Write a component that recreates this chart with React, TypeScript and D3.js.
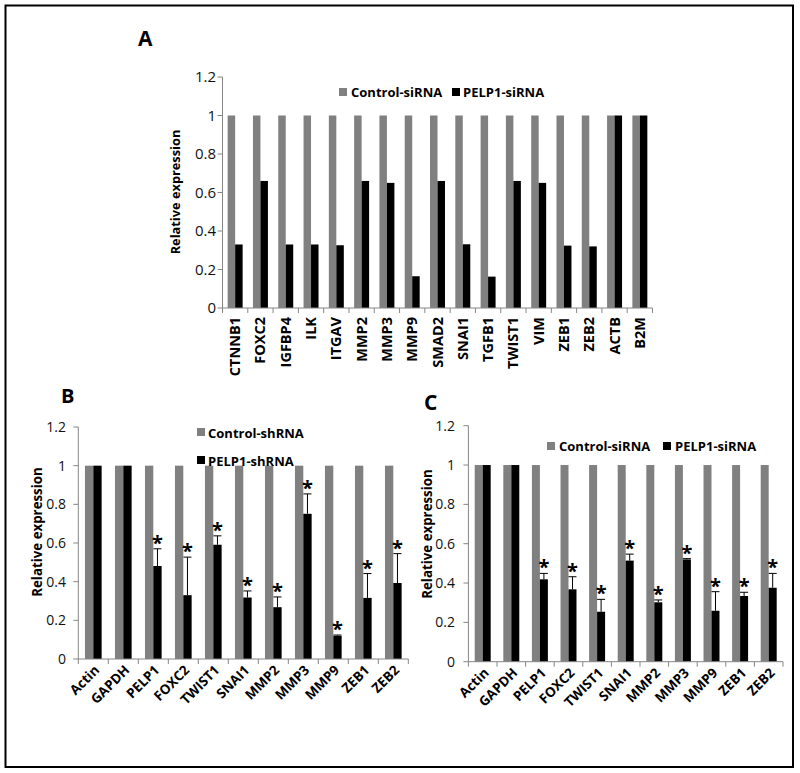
import React from "react";
import * as d3 from "d3";

// ---------- DATA ----------
const genesA = ["CTNNB1", "FOXC2", "IGFBP4", "ILK", "ITGAV", "MMP2", "MMP3", "MMP9", "SMAD2", "SNAI1", "TGFB1", "TWIST1", "VIM", "ZEB1", "ZEB2", "ACTB", "B2M"];
const controlA = [1, 1, 1, 1, 1, 1, 1, 1, 1, 1, 1, 1, 1, 1, 1, 1, 1];
const pelp1A = [0.33, 0.66, 0.33, 0.33, 0.326, 0.66, 0.65, 0.165, 0.66, 0.331, 0.163, 0.66, 0.65, 0.324, 0.32, 1, 1];

const genesB = ["Actin", "GAPDH", "PELP1", "FOXC2", "TWIST1", "SNAI1", "MMP2", "MMP3", "MMP9", "ZEB1", "ZEB2"];
const controlB = [1, 1, 1, 1, 1, 1, 1, 1, 1, 1, 1];
const pelp1B = [1, 1, 0.481, 0.33, 0.591, 0.318, 0.268, 0.751, 0.12, 0.316, 0.393];
const errTopB = [1, 1, 0.57, 0.527, 0.637, 0.352, 0.321, 0.854, 0.124, 0.442, 0.545];
const starB = [false, false, true, true, true, true, true, true, true, true, true];

const genesC = ["Actin", "GAPDH", "PELP1", "FOXC2", "TWIST1", "SNAI1", "MMP2", "MMP3", "MMP9", "ZEB1", "ZEB2"];
const controlC = [1, 1, 1, 1, 1, 1, 1, 1, 1, 1, 1];
const pelp1C = [1, 1, 0.419, 0.368, 0.254, 0.514, 0.302, 0.52, 0.259, 0.334, 0.376];
const errTopC = [1, 1, 0.449, 0.432, 0.317, 0.547, 0.314, 0.524, 0.356, 0.353, 0.449];
const starC = [false, false, true, true, true, true, true, true, true, true, true];

const yTicks = [0, 0.2, 0.4, 0.6, 0.8, 1, 1.2];
const yTickLabels = ["0", "0.2", "0.4", "0.6", "0.8", "1", "1.2"];
const seriesA = ["Control-siRNA", "PELP1-siRNA"];
const seriesB = ["Control-shRNA", "PELP1-shRNA"];
const seriesC = ["Control-siRNA", "PELP1-siRNA"];
const yTitle = "Relative expression";

const GRAY = "#808080";
const BLACK = "#000000";
const AXIS = "#868686";
const FONT = "'Open Sans', 'Liberation Sans', sans-serif";

type PanelProps = {
  letter: string;
  letterPos: [number, number];
  letterSize: number;
  genes: string[];
  control: number[];
  pelp: number[];
  errTop?: number[];
  stars?: boolean[];
  series: string[];
  x0: number;
  x1: number;
  yZero: number;
  yMax: number;
  pairPad: number;
  tickX: number;
  tickSize: number;
  titlePos: [number, number];
  titleSize: number;
  labelMode: "vertical" | "diag";
  labelSize: number;
  legend: { sq: [number, number][]; txt: [number, number][]; size: number };
};

function Panel(p: PanelProps) {
  const x = d3.scaleBand<string>().domain(p.genes).range([p.x0, p.x1]).padding(0);
  const inner = d3
    .scaleBand<string>()
    .domain(["c", "p"])
    .range([0, x.bandwidth()])
    .paddingInner(0)
    .paddingOuter(p.pairPad);
  const y = d3.scaleLinear().domain([0, 1.2]).range([p.yZero, p.yMax]);
  const bw = inner.bandwidth();
  const bounds = p.genes.map((_, i) => p.x0 + i * x.step()).concat([p.x1]);

  return (
    <g>
      <text x={p.letterPos[0]} y={p.letterPos[1]} fontFamily={FONT} fontWeight={700} fontSize={p.letterSize} fill="#000">
        {p.letter}
      </text>
      {p.genes.map((g, i) => (
        <g key={g + i}>
          <rect x={x(g)! + inner("c")!} y={y(p.control[i])} width={bw} height={y(0) - y(p.control[i])} fill={GRAY} />
          <rect x={x(g)! + inner("p")!} y={y(p.pelp[i])} width={bw} height={y(0) - y(p.pelp[i])} fill={BLACK} />
        </g>
      ))}
      {p.errTop &&
        p.genes.map((g, i) => {
          const cx = x(g)! + inner("p")! + bw / 2;
          const et = p.errTop![i];
          if (et <= p.pelp[i]) return null;
          return (
            <g key={"e" + g}>
              <line x1={cx} x2={cx} y1={y(p.pelp[i])} y2={y(et)} stroke="#000" strokeWidth={1} />
              <line x1={cx - 4} x2={cx + 4} y1={y(et)} y2={y(et)} stroke="#000" strokeWidth={1} />
            </g>
          );
        })}
      {p.stars &&
        p.genes.map((g, i) => {
          if (!p.stars![i]) return null;
          const cx = x(g)! + inner("p")! + bw / 2;
          const top = Math.max(p.errTop ? p.errTop[i] : p.pelp[i], p.pelp[i]);
          return (
            <text key={"s" + g} x={cx} y={y(top) + 1} textAnchor="middle" fontFamily={FONT} fontWeight={700} fontSize={20} fill="#000">
              *
            </text>
          );
        })}
      <line x1={p.x0} x2={p.x0} y1={y(1.2)} y2={y(0)} stroke={AXIS} strokeWidth={1} />
      {yTicks.map((t, i) => (
        <g key={"yt" + t}>
          <line x1={p.x0 - 5} x2={p.x0} y1={y(t)} y2={y(t)} stroke={AXIS} strokeWidth={1} />
          <text x={p.tickX} y={y(t)} dy="0.36em" textAnchor="end" fontFamily={FONT} fontSize={p.tickSize} fill="#111">
            {yTickLabels[i]}
          </text>
        </g>
      ))}
      <line x1={p.x0} x2={p.x1} y1={y(0)} y2={y(0)} stroke={AXIS} strokeWidth={1} />
      {bounds.map((b, i) => (
        <line key={"xt" + i} x1={b} x2={b} y1={y(0)} y2={y(0) + 5} stroke={AXIS} strokeWidth={1} />
      ))}
      {p.genes.map((g) => {
        const cx = x(g)! + x.bandwidth() / 2;
        if (p.labelMode === "vertical") {
          const lx = cx + 5;
          const ly = y(0) + 9;
          return (
            <text key={"xl" + g} x={lx} y={ly} transform={`rotate(-90 ${lx} ${ly})`} textAnchor="end" fontFamily={FONT} fontWeight={700} fontSize={p.labelSize} fill="#000">
              {g}
            </text>
          );
        }
        const lx = cx + 7;
        const ly = y(0) + 12;
        return (
          <text key={"xl" + g} x={lx} y={ly} transform={`rotate(-45 ${lx} ${ly})`} textAnchor="end" fontFamily={FONT} fontWeight={700} fontSize={p.labelSize} fill="#000">
            {g}
          </text>
        );
      })}
      <text
        x={p.titlePos[0]}
        y={p.titlePos[1]}
        transform={`rotate(-90 ${p.titlePos[0]} ${p.titlePos[1]})`}
        textAnchor="middle"
        dy="0.35em"
        fontFamily={FONT}
        fontWeight={700}
        fontSize={p.titleSize}
        fill="#000"
      >
        {yTitle}
      </text>
      {p.series.map((s, i) => (
        <g key={"lg" + s}>
          <rect x={p.legend.sq[i][0]} y={p.legend.sq[i][1]} width={8} height={8} fill={i === 0 ? GRAY : BLACK} />
          <text x={p.legend.txt[i][0]} y={p.legend.txt[i][1]} fontFamily={FONT} fontWeight={700} fontSize={p.legend.size} fill="#000">
            {s}
          </text>
        </g>
      ))}
    </g>
  );
}

export default function App() {
  return (
    <svg width={800} height={773} style={{ position: "absolute", left: 0, top: 0, background: "#fff" }}>
      <rect x={0} y={0} width={800} height={773} fill="#fff" />
      <rect x={5.5} y={5.5} width={787.5} height={761.5} fill="none" stroke="#000" strokeWidth={2} />
      <Panel
        letter="A"
        letterPos={[138, 46]}
        letterSize={21}
        genes={genesA}
        control={controlA}
        pelp={pelp1A}
        series={seriesA}
        x0={222.5}
        x1={652.5}
        yZero={308}
        yMax={77}
        pairPad={0.69}
        tickX={216}
        tickSize={15}
        titlePos={[176, 192]}
        titleSize={12.8}
        labelMode="vertical"
        labelSize={14.5}
        legend={{ sq: [[339, 88], [452, 88]], txt: [[351, 97], [463, 97]], size: 13 }}
      />
      <Panel
        letter="B"
        letterPos={[61, 403]}
        letterSize={20}
        genes={genesB}
        control={controlB}
        pelp={pelp1B}
        errTop={errTopB}
        stars={starB}
        series={seriesB}
        x0={78.3}
        x1={408.3}
        yZero={659}
        yMax={427}
        pairPad={0.8}
        tickX={66}
        tickSize={14}
        titlePos={[37, 532]}
        titleSize={13.3}
        labelMode="diag"
        labelSize={13.5}
        legend={{ sq: [[197, 428], [197, 456]], txt: [[208, 437.5], [208, 465.5]], size: 13 }}
      />
      <Panel
        letter="C"
        letterPos={[424, 410]}
        letterSize={21}
        genes={genesC}
        control={controlC}
        pelp={pelp1C}
        errTop={errTopC}
        stars={starC}
        series={seriesC}
        x0={468.4}
        x1={783}
        yZero={661.7}
        yMax={425.7}
        pairPad={0.79}
        tickX={455}
        tickSize={14}
        titlePos={[427, 534]}
        titleSize={13.3}
        labelMode="diag"
        labelSize={13.5}
        legend={{ sq: [[547, 442], [663, 442]], txt: [[559, 451], [675, 451]], size: 13 }}
      />
    </svg>
  );
}
